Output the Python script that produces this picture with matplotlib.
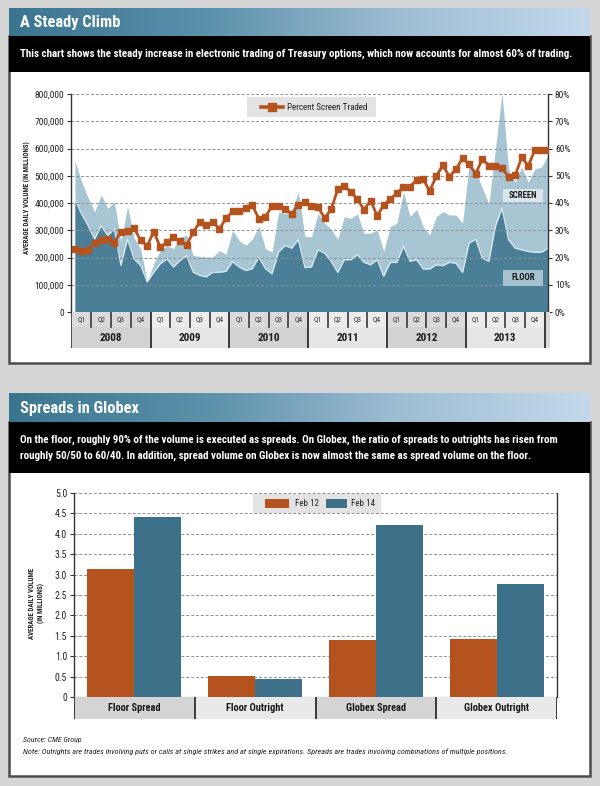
import matplotlib
matplotlib.use('Agg')
import matplotlib.pyplot as plt
import numpy as np
from matplotlib.patches import Rectangle
from matplotlib.lines import Line2D
from matplotlib.colors import LinearSegmentedColormap

W, H = 600, 786
plt.rcParams['font.family'] = ['Liberation Sans Narrow', 'Roboto Condensed', 'Liberation Sans', 'DejaVu Sans']

# ---------------- data ----------------
years = ['2008', '2009', '2010', '2011', '2012', '2013']
quarters = ['Q1', 'Q2', 'Q3', 'Q4']
# monthly, Jan 2008 .. Jan 2014, average daily volume in thousands
total_volume = [555, 480, 420, 368, 430, 380, 405, 258, 388, 272, 232, 110,
                178, 226, 244, 232, 275, 282, 208, 204, 202, 202, 225, 212,
                300, 262, 245, 268, 315, 232, 220, 368, 360, 373, 440, 278,
                276, 362, 326, 304, 267, 350, 344, 360, 289, 289, 302, 222,
                314, 326, 442, 350, 377, 314, 283, 350, 369, 356, 356, 326,
                545, 515, 455, 398, 600, 805, 524, 476, 532, 476, 525, 532,
                575]
floor_volume = [415, 360, 317, 268, 317, 280, 305, 171, 268, 195, 171, 110,
                146, 177, 195, 165, 189, 207, 146, 134, 129, 146, 146, 149,
                185, 165, 152, 159, 201, 159, 140, 220, 244, 234, 266, 163,
                165, 228, 216, 186, 145, 192, 192, 210, 182, 173, 192, 131,
                182, 182, 241, 186, 192, 158, 158, 173, 170, 182, 179, 145,
                253, 267, 198, 186, 314, 381, 265, 234, 228, 222, 219, 219,
                234]
pct_screen = [23.1, 22.5, 22.6, 25.3, 26.3, 26.7, 25.5, 29.5, 29.9, 30.8, 26.3, 24.3,
              29.5, 23.7, 25.6, 27.4, 25.9, 24.7, 29.2, 33.0, 32.0, 33.0, 30.5, 34.4,
              36.9, 37.2, 38.1, 39.1, 34.2, 35.0, 38.9, 38.9, 37.9, 36.0, 39.3, 40.5,
              39.0, 38.5, 34.4, 37.7, 45.0, 46.3, 44.0, 41.4, 37.5, 40.9, 35.3, 39.3,
              41.4, 43.6, 45.8, 46.0, 48.5, 48.7, 44.4, 49.9, 53.8, 49.7, 52.4, 56.4,
              54.2, 50.7, 56.2, 53.7, 53.6, 52.7, 49.7, 50.1, 56.8, 53.6, 59.5, 59.5,
              59.5]

categories = ['Floor Spread', 'Floor Outright', 'Globex Spread', 'Globex Outright']
feb12 = [3.13, 0.52, 1.40, 1.41]
feb14 = [4.40, 0.44, 4.22, 2.76]

ORANGE = '#b5531f'
TEAL = '#3d7089'
FLOOR_C = '#4a7f97'
SCREEN_C = '#a8c5d3'
GRID_C = '#8f8f8f'
DARK = '#333333'


def fr(x0, y0, x1, y1):
    return [x0 / W, 1 - y1 / H, (x1 - x0) / W, (y1 - y0) / H]


def rect(x0, y0, x1, y1, color, z=-5, **kw):
    r = Rectangle((x0 / W, 1 - y1 / H), (x1 - x0) / W, (y1 - y0) / H,
                  transform=fig.transFigure, facecolor=color, zorder=z, **kw)
    if 'edgecolor' not in kw:
        r.set_edgecolor('none')
    fig.add_artist(r)
    return r


def ftext(x, y, s, **kw):
    return fig.text(x / W, 1 - y / H, s, **kw)


fig = plt.figure(figsize=(6, 7.86), dpi=100)
fig.patch.set_facecolor('#d6d6d6')

grad_cmap = LinearSegmentedColormap.from_list('hdr', ['#3a7590', '#5a90aa', '#9dbdd3', '#c3d8eb'])


def panel(y_top, y_hdr, y_black, y_bot, title, subtitle_lines):
    rect(9, y_hdr, 590, y_bot, '#ffffff', z=-6, edgecolor='#4d4d4d', linewidth=1.8)
    axh = fig.add_axes(fr(9, y_top, 590, y_hdr))
    axh.imshow(np.linspace(0, 1, 256)[None, :], aspect='auto', cmap=grad_cmap,
               extent=[0, 1, 0, 1])
    axh.set_axis_off()
    axh.set_zorder(-4)
    rect(9, y_hdr, 590, y_black, '#000000', z=-3)
    ftext(20, (y_top + y_hdr) / 2 + 1, title, color='white', fontsize=11.8,
          fontweight='bold', va='center', ha='left')
    n = len(subtitle_lines)
    mid = (y_hdr + y_black) / 2
    for k, s in enumerate(subtitle_lines):
        yy = mid + (k - (n - 1) / 2) * 16
        ftext(20, yy, s, color='white', fontsize=7.9, fontweight='bold',
              va='center', ha='left')


panel(8, 36, 72, 363, 'A Steady Climb',
      ['This chart shows the steady increase in electronic trading of Treasury options, '
       'which now accounts for almost 60% of trading.'])
panel(393, 422, 473, 776, 'Spreads in Globex',
      ['On the floor, roughly 90% of the volume is executed as spreads. On Globex, the ratio '
       'of spreads to outrights has risen from',
       'roughly 50/50 to 60/40. In addition, spread volume on Globex is now almost the same '
       'as spread volume on the floor.'])

# ---------------- top chart ----------------
x = np.arange(len(total_volume))
ax = fig.add_axes(fr(71, 94, 548, 312))
ax.patch.set_visible(False)
ax.set_xlim(-0.6, 72)
ax.set_ylim(0, 800)
ax.fill_between(x, 0, total_volume, color=SCREEN_C, lw=0, zorder=1)
ax.fill_between(x, 0, floor_volume, color=FLOOR_C, lw=0, zorder=1.2)
ax.plot(x, floor_volume, color='#d9eaf2', lw=0.9, zorder=1.3)
for v in range(100, 801, 100):
    ax.axhline(v, color=GRID_C, lw=0.7, ls=(0, (3, 2)), zorder=1.5)
ax.set_xticks([])
ax.set_yticks(range(0, 801, 100))
ax.set_yticklabels(['0' if v == 0 else f'{v * 1000:,}' for v in range(0, 801, 100)])
ax.tick_params(axis='y', direction='out', length=3, width=0.8, colors=DARK,
               labelsize=6.8, pad=2, labelcolor='#222222')
for s in ['top', 'bottom', 'right']:
    ax.spines[s].set_visible(False)
ax.spines['left'].set_color(DARK)
ax.spines['left'].set_linewidth(1)

ax2 = ax.twinx()
ax2.set_ylim(0, 80)
ax2.plot(x, pct_screen, color=ORANGE, lw=2.0, marker='s', ms=3.8, zorder=3)
ax2.set_yticks(range(0, 81, 10))
ax2.set_yticklabels([f'{v}%' for v in range(0, 81, 10)])
ax2.tick_params(axis='y', direction='out', length=3, width=0.8, colors=DARK,
                labelsize=6.8, pad=2, labelcolor='#222222')
for s in ['top', 'bottom', 'left']:
    ax2.spines[s].set_visible(False)
ax2.spines['right'].set_color(DARK)
ax2.spines['right'].set_linewidth(1)

ftext(27, 198, 'AVERAGE DAILY VOLUME (IN MILLIONS)', rotation=90, fontsize=5,
      fontweight='bold', ha='center', va='center', color='#222222')

# legend
rect(247, 97, 376, 117, '#e3e3e3', z=5)
fig.add_artist(Line2D([261 / W, 283 / W], [1 - 107 / H] * 2, color=ORANGE, lw=2.6,
                      transform=fig.transFigure, zorder=6))
fig.add_artist(Line2D([272 / W], [1 - 107 / H], color=ORANGE, marker='s', ms=5.5,
                      transform=fig.transFigure, zorder=6))
ftext(287, 107, 'Percent Screen Traded', fontsize=6.5, va='center', ha='left',
      color='#222222', zorder=7)

# SCREEN / FLOOR labels
rect(503, 189, 543, 202, '#dae5eb', z=5)
ftext(523, 195.5, 'SCREEN', fontsize=6.3, fontweight='bold', ha='center', va='center',
      color='#1a1a1a', zorder=7)
rect(503, 270, 543, 286, '#a7c2cf', z=5)
ftext(523, 278, 'FLOOR', fontsize=6.3, fontweight='bold', ha='center', va='center',
      color='#1a1a1a', zorder=7)

# quarter / year band
bax = fig.add_axes(fr(71, 312, 550, 348))
bax.set_xlim(-0.6, -0.6 + 479 * 72.6 / 477)
bax.set_ylim(36, 0)
bax.set_axis_off()
qcols = ['#dadada', '#ececec']
ycols = ['#d2d2d2', '#e6e6e6']
for k, yr in enumerate(years):
    x0 = 12 * k - 0.5
    bax.add_patch(Rectangle((x0, 0), 12, 15, facecolor=qcols[k % 2], edgecolor='none'))
    bax.add_patch(Rectangle((x0, 15), 12, 21, facecolor=ycols[k % 2], edgecolor='none'))
    bax.text(x0 + 6, 25.5, yr, ha='center', va='center', fontsize=8, fontweight='bold',
             color='#1a1a1a')
    for q, ql in enumerate(quarters):
        bax.text(x0 + 3 * q + 1.5, 7.5, ql, ha='center', va='center', fontsize=5.3,
                 color='#333333')
        if q > 0:
            bax.plot([x0 + 3 * q] * 2, [0, 15], color='#3a3a3a', lw=1.2)
bax.add_patch(Rectangle((71.5, 0), 1.0, 36, facecolor=qcols[0], edgecolor='none'))
for k in range(1, 7):
    bax.plot([12 * k - 0.5] * 2, [0, 36], color='#3a3a3a', lw=1.4)
bax.plot([-0.6, -0.6], [0, 36], color=DARK, lw=1.2)

# ---------------- bottom chart ----------------
bx = fig.add_axes(fr(74, 493, 557, 697))
bx.patch.set_visible(False)
xc = np.arange(len(categories))
bw = 0.39
bx.bar(xc - bw / 2, feb12, bw, color=ORANGE, zorder=3)
bx.bar(xc + bw / 2, feb14, bw, color=TEAL, zorder=3)
bx.set_xlim(-0.5, 3.5)
bx.set_ylim(0, 5)
for v in np.arange(0.5, 5.01, 0.5):
    bx.axhline(v, color=GRID_C, lw=0.7, ls=(0, (3, 2)), zorder=1)
bx.set_xticks([])
yt = np.arange(0, 5.01, 0.5)
bx.set_yticks(yt)
bx.set_yticklabels(['0' if v == 0 else f'{v:.1f}' for v in yt])
bx.tick_params(axis='y', direction='out', length=3, width=0.8, colors=DARK,
               labelsize=7, pad=2, labelcolor='#222222')
bx.spines['top'].set_visible(False)
for s in ['left', 'right']:
    bx.spines[s].set_color(DARK)
    bx.spines[s].set_linewidth(1)
bx.spines['bottom'].set_color('#555555')
bx.spines['bottom'].set_linewidth(0.8)

ftext(37, 603, 'AVERAGE DAILY VOLUME\n(IN MILLIONS)', rotation=90, fontsize=5,
      fontweight='bold', ha='center', va='center', color='#222222', multialignment='center')

# legend
rect(253, 494, 381, 513, '#e3e3e3', z=5)
rect(265, 499, 289, 508, ORANGE, z=6)
ftext(295, 503.5, 'Feb 12', fontsize=6.5, va='center', ha='left', color='#222222', zorder=7)
rect(326, 499, 347, 508, TEAL, z=6)
ftext(351, 503.5, 'Feb 14', fontsize=6.5, va='center', ha='left', color='#222222', zorder=7)

# category band
cax = fig.add_axes(fr(74, 697, 557, 719))
cax.set_xlim(-0.5, 3.5)
cax.set_ylim(1, 0)
cax.set_axis_off()
ccols = ['#d4d4d4', '#e9e9e9', '#d4d4d4', '#e9e9e9']
for k, c in enumerate(categories):
    cax.add_patch(Rectangle((k - 0.5, 0), 1, 1, facecolor=ccols[k], edgecolor='none'))
    cax.text(k, 0.5, c, ha='center', va='center', fontsize=7.5, fontweight='bold',
             color='#1a1a1a')
for k in [-0.5, 0.5, 1.5, 2.5, 3.5]:
    cax.plot([k, k], [0, 1], color='#3a3a3a', lw=1.4)

ftext(23, 740, 'Source: CME Group', fontsize=5.7, style='italic', va='center', ha='left',
      color='#222222')
ftext(23, 752, 'Note: Outrights are trades involving puts or calls at single strikes and at '
      'single expirations. Spreads are trades involving combinations of multiple positions.',
      fontsize=5.9, style='italic', va='center', ha='left', color='#222222')

fig.savefig('out.png', dpi=100, facecolor=fig.get_facecolor())
